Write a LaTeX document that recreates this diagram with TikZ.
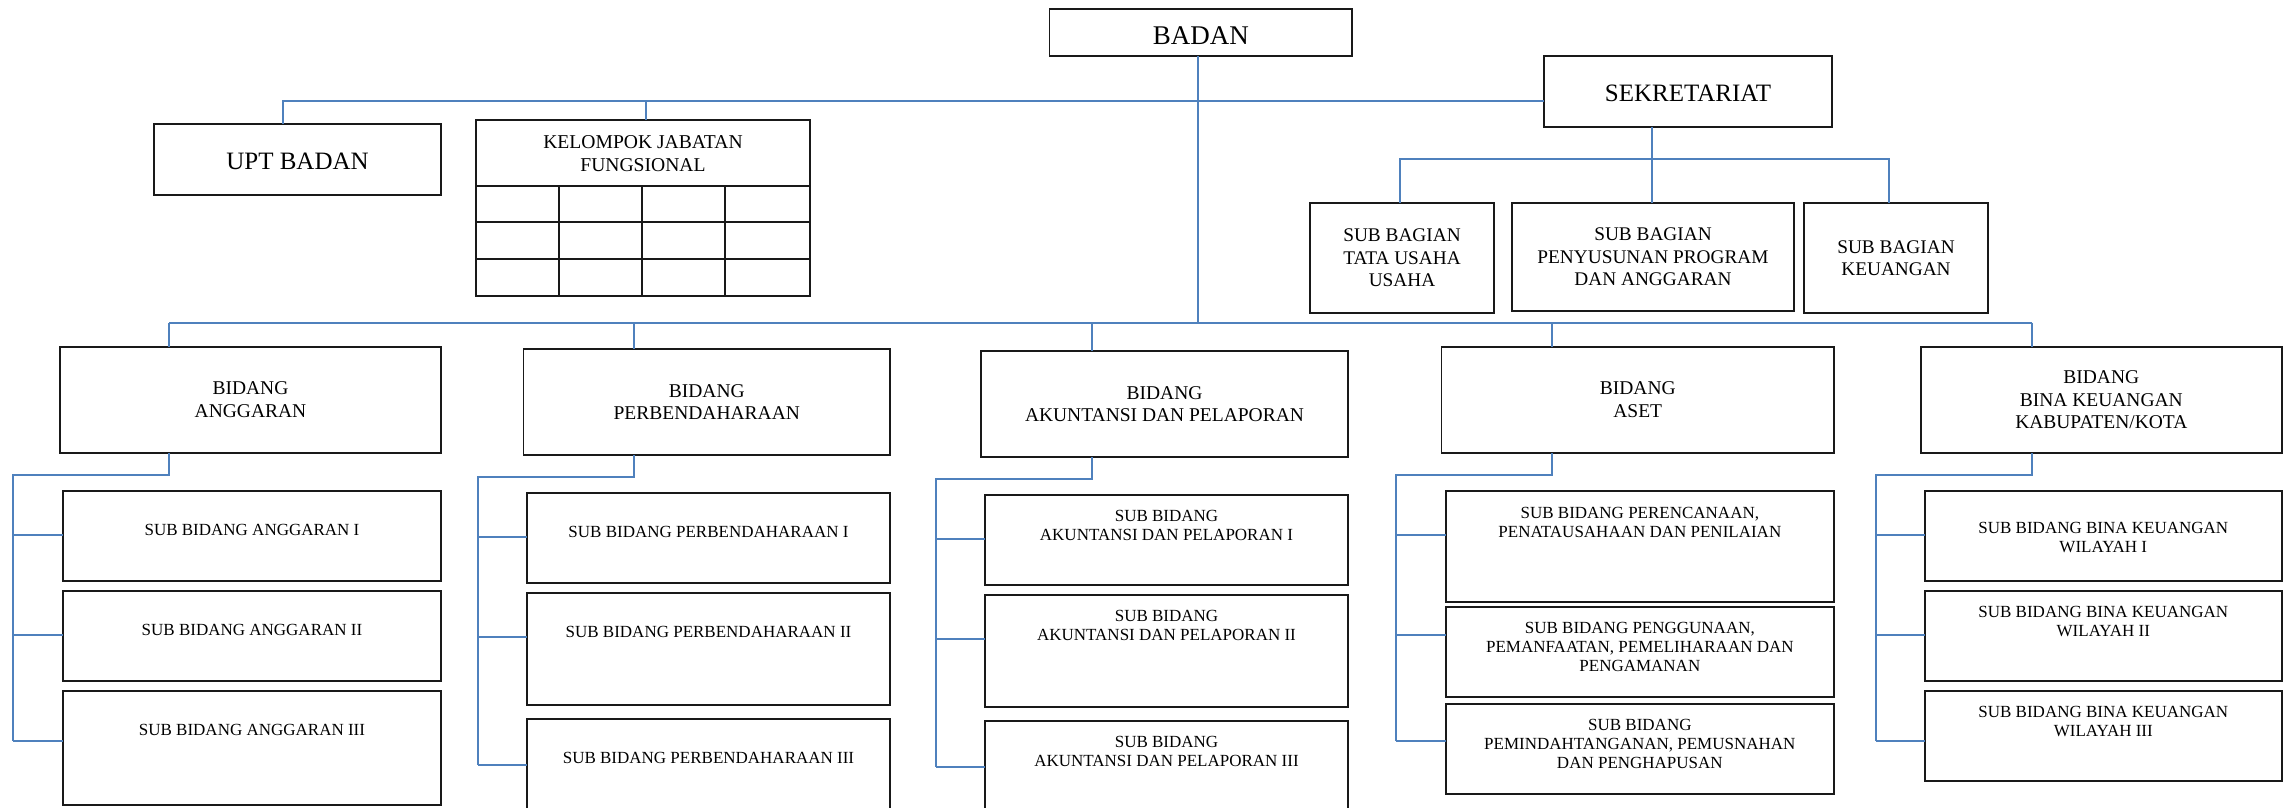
\documentclass[tikz,border=0pt]{standalone}
\usepackage{fontspec}
\setmainfont{Liberation Serif}
\definecolor{connblue}{RGB}{79,129,189}
\definecolor{boxline}{RGB}{25,25,25}
\tikzset{
  box/.style={draw=boxline, line width=1.8pt, inner sep=0pt, outer sep=0pt, align=center},
  conn/.style={draw=connblue, line width=1.8pt},
  gridline/.style={draw=boxline, line width=1.8pt},
  toptxt/.style={font=\fontsize{25}{28}\selectfont, text height=20.5pt, text depth=0pt},
  bidtxt/.style={font=\fontsize{19.5}{22.7}\selectfont},
  bagtxt/.style={font=\fontsize{19.3}{22.3}\selectfont},
  subtxt/.style={align=center, inner sep=0pt, anchor=north, font=\fontsize{17}{18.7}\selectfont},
}
\begin{document}
\begin{tikzpicture}[x=1pt,y=-1pt]
\useasboundingbox (0,0) rectangle (2293,808);
\clip (0,0) rectangle (2293,808);
% top level
\node[box, minimum width=302.5pt, minimum height=47pt, font=\fontsize{27}{30}\selectfont, text height=24pt, text depth=0pt] (badan) at (1200.75,32.8) {BADAN};
\node[box, toptxt, minimum width=288pt, minimum height=70.7pt] (sek) at (1688,91.35) {SEKRETARIAT};
\node[box, toptxt, minimum width=287pt, minimum height=71pt] (upt) at (297.5,159.5) {UPT BADAN};
% kelompok jabatan fungsional
\node[box, minimum width=334pt, minimum height=176pt] (kjf) at (643,208) {};
\node[align=center, inner sep=0pt, font=\fontsize{19.6}{23}\selectfont] (kjft) at (643,154) {KELOMPOK JABATAN\\FUNGSIONAL};
\foreach \y in {186,222,259} \draw[gridline] (476,\y) -- (810,\y);
\foreach \x in {559,642,725} \draw[gridline] (\x,186) -- (\x,296);
% sub bagian
\node[box, bagtxt, minimum width=184pt, minimum height=110pt] (sb1) at (1402,258) {SUB BAGIAN\\TATA USAHA\\USAHA};
\node[box, bagtxt, minimum width=282pt, minimum height=108pt] (sb2) at (1653,257) {SUB BAGIAN\\PENYUSUNAN PROGRAM\\DAN ANGGARAN};
\node[box, bagtxt, minimum width=184pt, minimum height=110pt] (sb3) at (1896,258) {SUB BAGIAN\\KEUANGAN};
% bidang
\node[box, bidtxt, minimum width=381pt, minimum height=106.3pt] (ba) at (250.5,399.85) {BIDANG\\ANGGARAN};
\node[box, bidtxt, minimum width=366.5pt, minimum height=106pt] (bp) at (706.75,402) {BIDANG\\PERBENDAHARAAN};
\node[box, bidtxt, minimum width=367pt, minimum height=106pt] (bak) at (1164.5,404) {BIDANG\\AKUNTANSI DAN PELAPORAN};
\node[box, bidtxt, minimum width=392.5pt, minimum height=106.3pt] (bas) at (1637.75,399.85) {BIDANG\\ASET};
\node[box, bidtxt, minimum width=360.6pt, minimum height=106.3pt] (bbk) at (2101.3,399.85) {BIDANG\\BINA KEUANGAN\\KABUPATEN/KOTA};
% sub bidang boxes
\node[box, minimum width=378pt, minimum height=90pt] (a1) at (252,536) {};
\node[box, minimum width=378pt, minimum height=90pt] (a2) at (252,636) {};
\node[box, minimum width=378pt, minimum height=114pt] (a3) at (252,748) {};
\node[box, minimum width=363pt, minimum height=90pt] (p1) at (708.5,538) {};
\node[box, minimum width=363pt, minimum height=112pt] (p2) at (708.5,649) {};
\node[box, minimum width=363pt, minimum height=96.3pt] (p3) at (708.5,766.85) {};
\node[box, minimum width=363pt, minimum height=90.3pt] (k1) at (1166.5,539.85) {};
\node[box, minimum width=363pt, minimum height=112pt] (k2) at (1166.5,651) {};
\node[box, minimum width=363pt, minimum height=94pt] (k3) at (1166.5,768) {};
\node[box, minimum width=388.3pt, minimum height=110.7pt] (s1) at (1639.85,546.35) {};
\node[box, minimum width=388.3pt, minimum height=90pt] (s2) at (1639.85,652) {};
\node[box, minimum width=388.3pt, minimum height=90pt] (s3) at (1639.85,749) {};
\node[box, minimum width=356.6pt, minimum height=90pt] (w1) at (2103.3,536) {};
\node[box, minimum width=356.6pt, minimum height=90pt] (w2) at (2103.3,636) {};
\node[box, minimum width=356.6pt, minimum height=90pt] (w3) at (2103.3,736) {};
% sub bidang texts
\node[subtxt] (a1t) at ([yshift=-33.4pt]a1.north) {SUB BIDANG ANGGARAN I};
\node[subtxt] (a2t) at ([yshift=-33.4pt]a2.north) {SUB BIDANG ANGGARAN II};
\node[subtxt] (a3t) at ([yshift=-33.4pt]a3.north) {SUB BIDANG ANGGARAN III};
\node[subtxt] (p1t) at ([yshift=-33.4pt]p1.north) {SUB BIDANG PERBENDAHARAAN I};
\node[subtxt] (p2t) at ([yshift=-33.4pt]p2.north) {SUB BIDANG PERBENDAHARAAN II};
\node[subtxt] (p3t) at ([yshift=-33.4pt]p3.north) {SUB BIDANG PERBENDAHARAAN III};
\node[subtxt] (k1t) at ([yshift=-15.4pt]k1.north) {SUB BIDANG\\AKUNTANSI DAN PELAPORAN I};
\node[subtxt] (k2t) at ([yshift=-15.4pt]k2.north) {SUB BIDANG\\AKUNTANSI DAN PELAPORAN II};
\node[subtxt] (k3t) at ([yshift=-15.4pt]k3.north) {SUB BIDANG\\AKUNTANSI DAN PELAPORAN III};
\node[subtxt] (s1t) at ([yshift=-16pt]s1.north) {SUB BIDANG PERENCANAAN,\\PENATAUSAHAAN DAN PENILAIAN};
\node[subtxt] (s2t) at ([yshift=-15.4pt]s2.north) {SUB BIDANG PENGGUNAAN,\\PEMANFAATAN, PEMELIHARAAN DAN\\PENGAMANAN};
\node[subtxt] (s3t) at ([yshift=-15.4pt]s3.north) {SUB BIDANG\\PEMINDAHTANGANAN, PEMUSNAHAN\\DAN PENGHAPUSAN};
\node[subtxt] (w1t) at ([yshift=-31.4pt]w1.north) {SUB BIDANG BINA KEUANGAN\\WILAYAH I};
\node[subtxt] (w2t) at ([yshift=-15.4pt]w2.north) {SUB BIDANG BINA KEUANGAN\\WILAYAH II};
\node[subtxt] (w3t) at ([yshift=-15.4pt]w3.north) {SUB BIDANG BINA KEUANGAN\\WILAYAH III};
% connectors: top line
\coordinate (uptJ) at (283,100.7);
\draw[conn] (upt.north -| uptJ) -- (uptJ) -- (uptJ -| sek.west);
\draw[conn] ([xshift=3pt]kjf.north) -- ([xshift=3pt]kjf.north |- uptJ);
% badan trunk and bottom line
\coordinate (bdJ) at (1198,322.7);
\draw[conn] (badan.south -| bdJ) -- (bdJ);
% sekretariat
\coordinate (sekJ) at (1652,159.3);
\coordinate (sbL) at (1400,159.3);
\coordinate (sbR) at (1889,159.3);
\draw[conn] (sek.south -| sekJ) -- (sekJ) -- (sekJ |- sb2.north);
\draw[conn] (sb1.north -| sbL) -- (sbL) -- (sbR) -- (sbR |- sb3.north);
% bidang columns
\foreach \n/\sx/\ey/\rx/\s/\ya/\yb/\yc in {
  ba/169/474.7/13.2/a/535/634.7/741,
  bp/634/476.7/477.6/p/537/636.7/765,
  bak/1092/479/935.7/k/539/639/766.7,
  bas/1551.7/474.7/1395.6/s/535/635/741,
  bbk/2031.6/474.7/1876/w/535/634.7/741}{
  \coordinate (\n-T) at (\sx,322.7);
  \coordinate (\n-E) at (\sx,\ey);
  \coordinate (\n-R) at (\rx,\ey);
  \coordinate (\s-b1) at (\rx,\ya);
  \coordinate (\s-b2) at (\rx,\yb);
  \coordinate (\s-b3) at (\rx,\yc);
  \draw[conn] (\n-T) -- (\n.north -| \n-T);
  \draw[conn] (\n.south -| \n-E) -- (\n-E) -- (\n-R) -- (\s-b3);
  \draw[conn] (\s-b1) -- (\s-b1 -| \s1.west);
  \draw[conn] (\s-b2) -- (\s-b2 -| \s2.west);
  \draw[conn] (\s-b3) -- (\s-b3 -| \s3.west);
}
\draw[conn] (ba-T) -- (bbk-T);
\end{tikzpicture}
\end{document}
